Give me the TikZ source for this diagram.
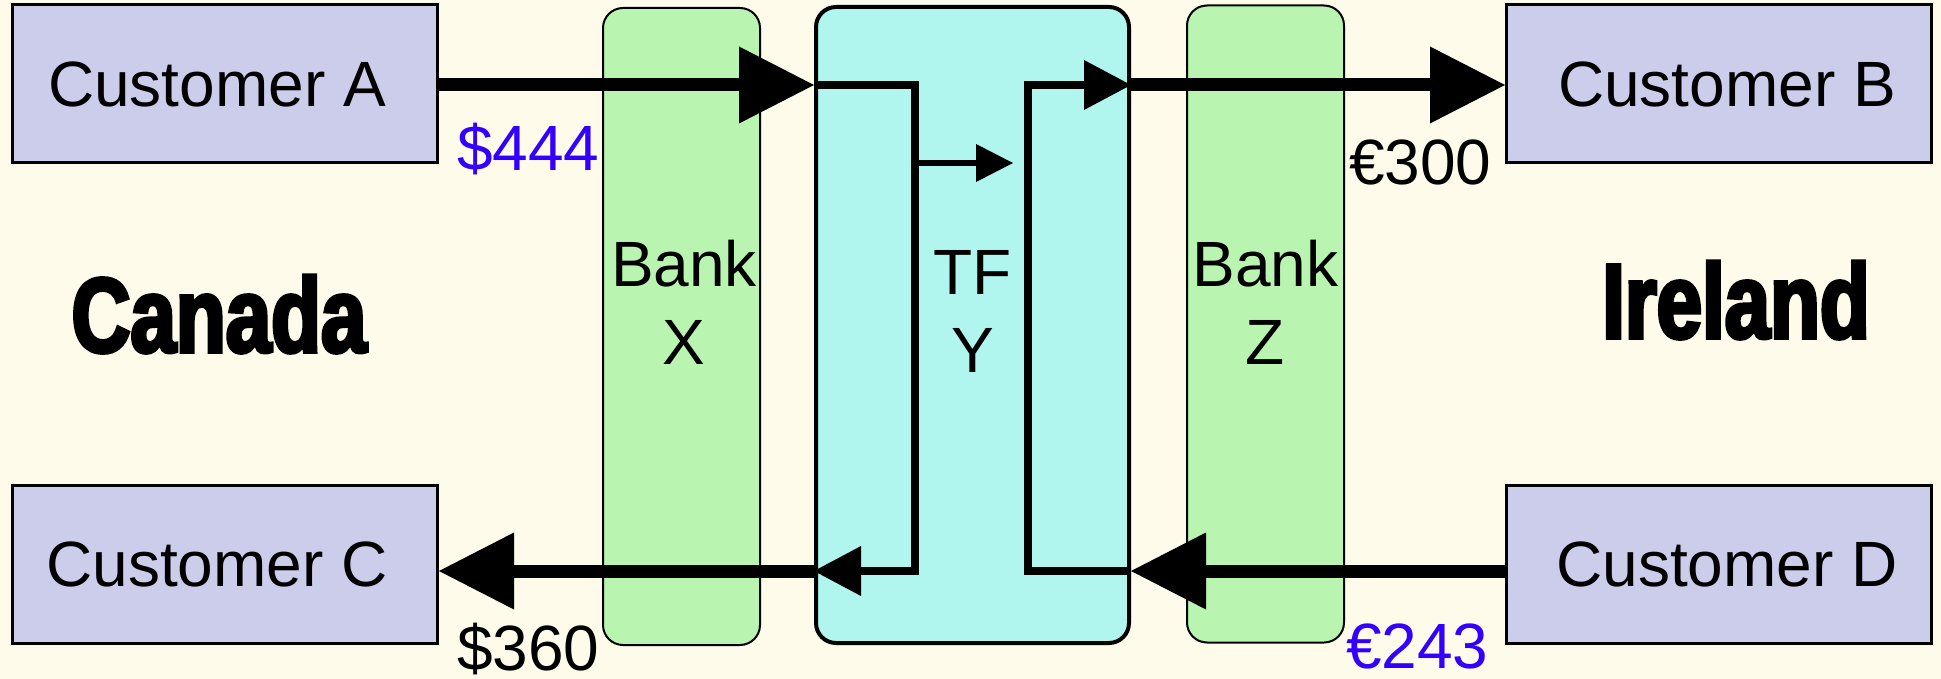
\documentclass[tikz,border=0pt]{standalone}
\usepackage{fontspec}
\setmainfont{Liberation Sans}
\newfontfamily\heavyfont[FakeStretch=0.77,FakeBold=3.5]{Liberation Sans}
\usetikzlibrary{arrows.meta}
\definecolor{paper}{RGB}{255,251,234}
\definecolor{custfill}{RGB}{204,204,235}
\definecolor{bankfill}{RGB}{185,245,176}
\definecolor{tffill}{RGB}{176,245,238}
\definecolor{amountblue}{RGB}{51,0,255}
\begin{document}
\begin{tikzpicture}[x=1pt,y=-1pt,
		txt/.style={inner sep=0pt, font=\fontsize{64}{78}\selectfont},
		customer/.style={txt, draw, line width=3pt, fill=custfill, minimum width=425pt, minimum height=158pt},
		bank/.style={draw, line width=2pt, fill=bankfill, rounded corners=20pt, minimum width=157pt, minimum height=637pt},
		country/.style={inner sep=0pt, anchor=base, font=\heavyfont\bfseries\fontsize{106}{106}\selectfont},
		amount/.style={txt, anchor=base west},
		flow/.style={line width=13pt, -{Triangle[length=75pt,width=77pt,line width=0pt]}},
		inner/.style={line width=8pt, -{Triangle[length=47pt,width=50pt,line width=0pt]}},
		midflow/.style={line width=6pt, -{Triangle[length=37pt,width=38pt,line width=0pt]}}]
		\useasboundingbox (0,0) rectangle (1941,679);
		\fill[paper] (0,0) rectangle (1941,679);
		\foreach \n/\t/\x/\y/\p in {custA/A/225/84/-16, custB/B/1719/84/16, custC/C/225/564/-16, custD/D/1719/564/16}
			\node[customer] (\n) at (\x,\y) {\hspace*{\p pt}Customer \t};
		\node[bank] (bankX) at (681.5,326.5) {};
		\node[bank] (bankZ) at (1265.5,324) {};
		\node[draw, line width=4pt, fill=tffill, rounded corners=20pt, minimum width=313pt, minimum height=636pt] (tf) at (972.5,325) {};
		\node[txt, align=center] (bankXlabel) at (684,302.5) {Bank\\X};
		\node[txt, align=center] (bankZlabel) at (1265.5,302.5) {Bank\\Z};
		\node[txt, align=center] (tflabel) at (972.5,311) {TF\\Y};
		\node[country] (canada) at (219,352) {Canada};
		\node[country] (ireland) at (1736,338) {Ireland};
		\node[amount, text=amountblue] (amtA) at (457,171) {\$444};
		\node[amount] (amtB) at (1349,185) {€300};
		\node[amount] (amtC) at (457,670) {\$360};
		\node[amount, text=amountblue] (amtD) at (1346,668) {€243};
		\coordinate (yTop) at (0,85);
		\coordinate (yMid) at (0,163);
		\coordinate (yBot) at (0,571);
		\draw[flow] (custA.east |- yTop) -- (tf.west |- yTop);
		\draw[flow] (tf.east |- yTop) -- (custB.west |- yTop);
		\draw[flow] (custD.west |- yBot) -- (tf.east |- yBot);
		\draw[flow] (tf.west |- yBot) -- (custC.east |- yBot);
		\draw[inner] (tf.west |- yTop) -- ++(101,0) |- (tf.west |- yBot);
		\draw[inner] (tf.east |- yBot) -- ++(-103,0) |- (tf.east |- yTop);
		\draw[midflow] ([xshift=101pt]tf.west |- yMid) -- ++(98,0);
	\end{tikzpicture}
\end{document}
